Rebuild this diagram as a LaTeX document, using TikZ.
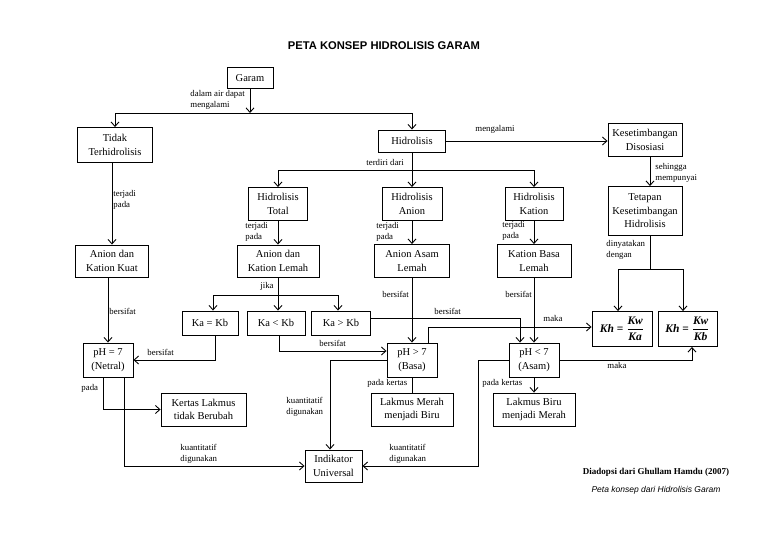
\documentclass[tikz,border=0pt]{standalone}
\usepackage{amsmath}
\usepackage{fontspec}
\setmainfont{Liberation Serif}
\newfontfamily\headfont{Liberation Sans}
\usetikzlibrary{arrows.meta}

\newcommand{\khtext}[1]{\mbox{\bfseries\itshape #1}}

\begin{document}
\begin{tikzpicture}[x=1pt, y=-1pt, line width=0.9pt,
  box/.style={draw, fill=white, align=center, inner sep=1pt, font=\fontsize{10.5}{13.5}\selectfont},
  khbox/.style={box, font=\fontsize{11.5}{13.5}\selectfont},
  lbl/.style={anchor=west, align=left, inner sep=0pt, font=\fontsize{8.8}{10.5}\selectfont},
  arr/.style={-{Straight Barb[length=4.5pt,width=8pt]}}]

  \useasboundingbox (0,0) rectangle (768,543);

  \node[font=\headfont\bfseries\fontsize{11.2}{13}\selectfont] (title) at (384,46) {PETA KONSEP HIDROLISIS GARAM};

  \node[box, minimum width=46pt, minimum height=21pt] (garam) at (250,78) {Garam};
  \node[box, minimum width=75pt, minimum height=35pt] (tidak) at (115,145) {Tidak\\Terhidrolisis};
  \node[box, minimum width=67pt, minimum height=22pt] (hidro) at (412,141) {Hidrolisis};
  \node[box, minimum width=74pt, minimum height=33pt] (kesdis) at (645,140) {Kesetimbangan\\Disosiasi};

  \node[box, minimum width=59pt, minimum height=33pt] (total) at (278,204) {Hidrolisis\\Total};
  \node[box, minimum width=60pt, minimum height=33pt] (anion) at (412,204) {Hidrolisis\\Anion};
  \node[box, minimum width=58pt, minimum height=33pt] (kation) at (534,204) {Hidrolisis\\Kation};
  \node[box, minimum width=74pt, minimum height=49pt] (tetapan) at (645,211) {Tetapan\\Kesetimbangan\\Hidrolisis};

  \node[box, minimum width=73pt, minimum height=32pt] (akkuat) at (112,261) {Anion dan\\Kation Kuat};
  \node[box, minimum width=82pt, minimum height=32pt] (aklemah) at (278,261) {Anion dan\\Kation Lemah};
  \node[box, minimum width=75pt, minimum height=33pt] (aalemah) at (412,261) {Anion Asam\\Lemah};
  \node[box, minimum width=74pt, minimum height=33pt] (kblemah) at (534,261) {Kation Basa\\Lemah};

  \node[box, minimum width=56pt, minimum height=24pt] (kaeq) at (210,323) {Ka = Kb};
  \node[box, minimum width=58pt, minimum height=24pt] (kakecil) at (276,323) {Ka {\textless} Kb};
  \node[box, minimum width=59pt, minimum height=24pt] (kabesar) at (341,323) {Ka {\textgreater} Kb};
  \node[khbox, minimum width=60pt, minimum height=35pt] (khka) at (622,329) {\khtext{Kh} \textbf{=} $\dfrac{\khtext{Kw}}{\khtext{Ka}}$};
  \node[khbox, minimum width=59pt, minimum height=35pt] (khkb) at (687.5,329) {\khtext{Kh} \textbf{=} $\dfrac{\khtext{Kw}}{\khtext{Kb}}$};

  \node[box, minimum width=50pt, minimum height=34pt] (netral) at (108,360) {pH = 7\\(Netral)};
  \node[box, minimum width=50pt, minimum height=34pt] (basa) at (412,360) {pH {\textgreater} 7\\(Basa)};
  \node[box, minimum width=50pt, minimum height=34pt] (asam) at (534,360) {pH {\textless} 7\\(Asam)};

  \node[box, minimum width=85pt, minimum height=33pt] (lakmustetap) at (203.5,409.5) {Kertas Lakmus\\tidak Berubah};
  \node[box, minimum width=82pt, minimum height=33pt] (merahbiru) at (412,409.5) {Lakmus Merah\\menjadi Biru};
  \node[box, minimum width=82pt, minimum height=33pt] (birumerah) at (534,409.5) {Lakmus Biru\\menjadi Merah};
  \node[box, minimum width=57pt, minimum height=32pt] (indikator) at (333.5,466) {Indikator\\Universal};

  \coordinate (garamsplit) at (250,113);
  \coordinate (hidrosplit) at (412,170);
  \coordinate (khsplit) at (650,269);
  \coordinate (lemahsplit) at (278,295);
  \coordinate (asambend) at (478,466);

  \draw[arr] (garam) -- (garamsplit);
  \draw[arr] (garamsplit) -| (tidak);
  \draw[arr] (garamsplit) -| (hidro);
  \draw[arr] (hidro.east) -- (hidro.east -| kesdis.west);
  \draw (hidro) -- (hidrosplit);
  \draw[arr] (hidrosplit) -| (total);
  \draw[arr] (hidrosplit) -- (anion);
  \draw[arr] (hidrosplit) -| (kation);
  \draw[arr] ([xshift=5pt]kesdis.south) -- ([xshift=5pt]tetapan.north);

  \draw[arr] (tidak.south -| akkuat) -- (akkuat);
  \draw[arr] (total) -- (aklemah);
  \draw[arr] (anion) -- (aalemah);
  \draw[arr] (kation) -- (kblemah);
  \draw ([xshift=5pt]tetapan.south) -- (khsplit);
  \draw[arr] (khsplit) -| ([xshift=-4pt]khka.north);
  \draw[arr] (khsplit) -| ([xshift=-4.5pt]khkb.north);

  \draw (aklemah) -- (lemahsplit);
  \draw[arr] (lemahsplit) -| ([xshift=3pt]kaeq.north);
  \draw[arr] (lemahsplit) -- (lemahsplit |- kakecil.north);
  \draw[arr] (lemahsplit) -| ([xshift=-3pt]kabesar.north);

  \draw[arr] (akkuat.south -| netral) -- (netral);
  \draw[arr] ([xshift=5pt]kaeq.south) |- (netral.east);
  \draw[arr] ([xshift=3pt]kakecil.south) |- ([yshift=9pt]basa.west);
  \draw[arr] ([yshift=5pt]kabesar.east) -| ([xshift=-14pt]asam.north);
  \draw[arr] (aalemah) -- (basa);
  \draw[arr] (kblemah) -- (asam);
  \draw[arr] ([xshift=16pt]basa.north) |- ([yshift=2pt]khka.west);
  \draw[arr] (asam.east) -| ([xshift=4.5pt]khkb.south);

  \draw[arr] ([xshift=-5pt]netral.south) |- (lakmustetap.west);
  \draw[arr] ([xshift=16pt]netral.south) |- (indikator.west);
  \draw[arr] (basa.west) -| ([xshift=-3.5pt]indikator.north);
  \draw (basa) -- (merahbiru);
  \draw[arr] (asam) -- (birumerah);
  \draw[arr] (asam.west) -| (asambend) -- (indikator.east);

  \node[lbl] (lgaram) at (190,100) {dalam air dapat\\mengalami};
  \node[lbl] (lhidro) at (475,129) {mengalami};
  \node[lbl] (lterdiri) at (366,162) {terdiri dari};
  \node[lbl] (lsehingga) at (655,173) {sehingga\\mempunyai};
  \node[lbl] (ltidak) at (113,200) {terjadi\\pada};
  \node[lbl] (ltotal) at (245,232) {terjadi\\pada};
  \node[lbl] (lanion) at (376,232) {terjadi\\pada};
  \node[lbl] (lkation) at (502,231) {terjadi\\pada};
  \node[lbl] (ltetapan) at (606,250) {dinyatakan\\dengan};
  \node[lbl] (ljika) at (260,286) {jika};
  \node[lbl] (lkuat) at (109,311) {bersifat};
  \node[lbl] (lkaeq) at (147,352) {bersifat};
  \node[lbl] (lkakecil) at (319,343) {bersifat};
  \node[lbl] (laalemah) at (382,294) {bersifat};
  \node[lbl] (lkblemah) at (505,294) {bersifat};
  \node[lbl] (lkabesar) at (434,311) {bersifat};
  \node[lbl] (lmakaka) at (543,318) {maka};
  \node[lbl] (lmakakb) at (607,365) {maka};
  \node[lbl] (lnetral) at (81,388) {pada};
  \node[lbl] (lbasa) at (367,383) {pada kertas};
  \node[lbl] (lasam) at (482,383) {pada kertas};
  \node[lbl] (lkuannetral) at (180,454) {kuantitatif\\digunakan};
  \node[lbl] (lkuanbasa) at (286,407) {kuantitatif\\digunakan};
  \node[lbl] (lkuanasam) at (389,454) {kuantitatif\\digunakan};

  \node[font=\bfseries\fontsize{9}{11}\selectfont] (sumber) at (656,472) {Diadopsi dari Ghullam Hamdu (2007)};
  \node[font=\headfont\itshape\fontsize{8.5}{10}\selectfont] (judul) at (656,490) {Peta konsep dari Hidrolisis Garam};

\end{tikzpicture}
\end{document}
